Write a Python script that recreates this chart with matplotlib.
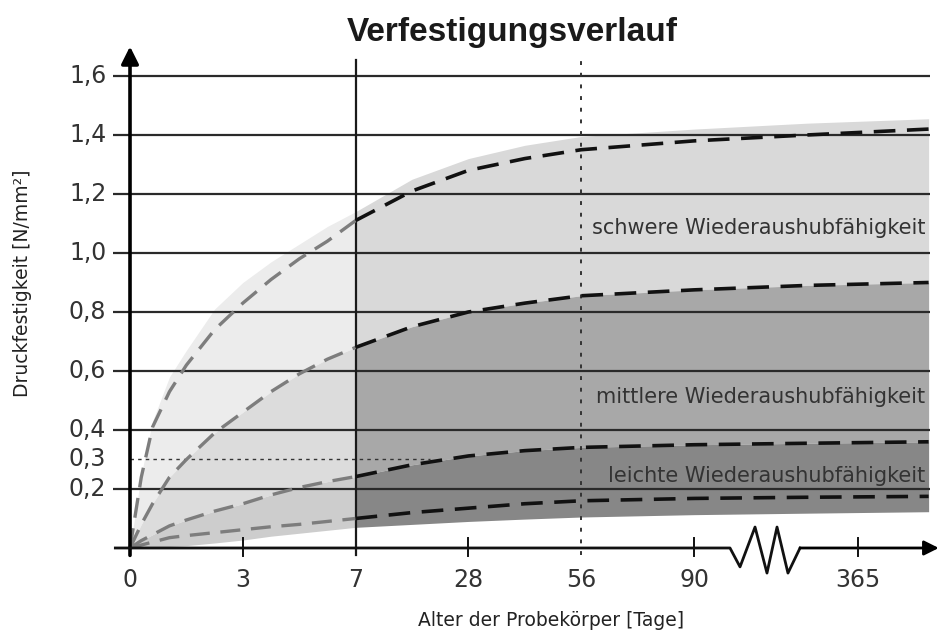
import matplotlib
matplotlib.use("Agg")
import matplotlib.pyplot as plt
import numpy as np

# x axis is categorical: positions of the day ticks (equal spacing, axis break before 365)
day_labels = ['0', '3', '7', '28', '56', '90', '365']
day_pos = [0, 1, 2, 3, 4, 5, 6.45]

xs = [0, 0.1, 0.2, 0.35, 0.5, 0.75, 1.0, 1.25, 1.5, 1.75, 2.0, 2.5, 3.0, 3.5, 4.0, 5.0, 6.0, 7.08]

# dashed strength curves [N/mm²]
curve_a = [0, 0.24, 0.41, 0.53, 0.62, 0.74, 0.83, 0.91, 0.98, 1.04, 1.11, 1.21, 1.28, 1.32, 1.35, 1.38, 1.40, 1.42]
curve_b = [0, 0.08, 0.15, 0.24, 0.30, 0.39, 0.46, 0.53, 0.59, 0.64, 0.68, 0.75, 0.80, 0.83, 0.855, 0.875, 0.89, 0.90]
curve_c = [0, 0.025, 0.045, 0.075, 0.095, 0.125, 0.15, 0.18, 0.205, 0.225, 0.242, 0.282, 0.312, 0.33, 0.341, 0.35, 0.355, 0.36]
curve_d = [0, 0.01, 0.02, 0.035, 0.042, 0.052, 0.062, 0.072, 0.08, 0.09, 0.10, 0.12, 0.135, 0.15, 0.16, 0.168, 0.172, 0.175]

# outer edges of the shaded area
upper_edge = [0, 0.25, 0.43, 0.58, 0.67, 0.81, 0.90, 0.97, 1.03, 1.09, 1.14, 1.25, 1.32, 1.365, 1.395, 1.42, 1.44, 1.455]
lower_edge = [0, 0.0, 0.002, 0.005, 0.008, 0.017, 0.027, 0.04, 0.05, 0.06, 0.07, 0.08, 0.09, 0.098, 0.105, 0.113, 0.118, 0.123]

y_ticks = [0.2, 0.3, 0.4, 0.6, 0.8, 1.0, 1.2, 1.4, 1.6]
y_labels = ['0,2', '0,3', '0,4', '0,6', '0,8', '1,0', '1,2', '1,4', '1,6']
grid_vals = [0.2, 0.4, 0.6, 0.8, 1.0, 1.2, 1.4, 1.6]

zones = ['schwere Wiederaushubfähigkeit', 'mittlere Wiederaushubfähigkeit', 'leichte Wiederaushubfähigkeit']
zone_y = [1.085, 0.512, 0.244]

xs = np.array(xs)
A, B, C, D = map(np.array, (curve_a, curve_b, curve_c, curve_d))
E, F = np.array(upper_edge), np.array(lower_edge)

fig = plt.figure(figsize=(9.39, 6.35), dpi=100)
ax = fig.add_axes([100 / 939, 65 / 635, 839 / 939, 525 / 635])
ax.set_xlim(-0.266, 7.172)
ax.set_ylim(-0.0746, 1.705)
ax.axis('off')

k = int(np.where(xs == 2.0)[0][0])
left = slice(0, k + 1)
right = slice(k, None)

# shaded bands: lighter before 7 days, darker after
ax.fill_between(xs[left], B[left], E[left], color='#ececec', lw=0, zorder=1)
ax.fill_between(xs[left], C[left], B[left], color='#dcdcdc', lw=0, zorder=1)
ax.fill_between(xs[left], F[left], C[left], color='#cdcdcd', lw=0, zorder=1)
ax.fill_between(xs[right], B[right], E[right], color='#d9d9d9', lw=0, zorder=1)
ax.fill_between(xs[right], C[right], B[right], color='#a8a8a8', lw=0, zorder=1)
ax.fill_between(xs[right], F[right], C[right], color='#878787', lw=0, zorder=1)

# horizontal grid
ax.hlines(grid_vals, -0.15, 7.09, color='#2a2a2a', lw=1.6, zorder=2)
ax.plot([0, 2.66], [0.3, 0.3], color='#333333', lw=1.0, dashes=(2.5, 3), zorder=2)

# vertical markers at 7 and 56 days
ax.plot([2, 2], [-0.024, 1.654], color='#1a1a1a', lw=1.6, zorder=3)
ax.plot([4, 4], [-0.024, 1.654], color='#333333', lw=1.4, dashes=(2, 4), zorder=3)

# dashed curves: grey up to 7 days, black afterwards
for c in (A, B, C, D):
    ax.plot(xs[left], c[left], color='#7d7d7d', lw=2.4, dashes=(6, 3.2), zorder=4)
    ax.plot(xs[right], c[right], color='#111111', lw=2.6, dashes=(6, 3.2), zorder=4)

# axes with arrows
ax.annotate('', xy=(0, 1.70), xytext=(0, -0.025),
            arrowprops=dict(arrowstyle='-|>', lw=2.6, color='black', mutation_scale=26, shrinkA=0, shrinkB=0),
            zorder=5, annotation_clip=False)
zig_x = [-0.13, 5.319, 5.408, 5.541, 5.647, 5.736, 5.833, 5.940]
zig_y = [0, 0, -0.064, 0.071, -0.085, 0.071, -0.085, 0]
ax.plot(zig_x, zig_y, color='#111111', lw=2.0, zorder=5, clip_on=False)
ax.annotate('', xy=(7.17, 0), xytext=(5.94, 0),
            arrowprops=dict(arrowstyle='-|>', lw=2.0, color='black', mutation_scale=22, shrinkA=0, shrinkB=0),
            zorder=5, annotation_clip=False)

for p in day_pos:
    if p in (1, 3, 5, 6.45):
        ax.plot([p, p], [-0.027, 0.034], color='#111111', lw=1.4, zorder=5)
    ax.text(p, -0.108, day_labels[day_pos.index(p)], ha='center', va='center',
            fontsize=17, color='#333333', family='DejaVu Sans')

for v, lab in zip(y_ticks, y_labels):
    ax.text(-0.21, v, lab, ha='right', va='center', fontsize=17, color='#333333', family='DejaVu Sans')

for lab, v in zip(zones, zone_y):
    ax.text(7.05, v, lab, ha='right', va='center', fontsize=15, color='#333333',
            family='DejaVu Sans', zorder=6)

ax.text(3.73, -0.247, 'Alter der Probekörper [Tage]', ha='center', va='center',
        fontsize=13.5, color='#222222', family='DejaVu Sans')
ax.text(-0.957, 0.898, 'Druckfestigkeit [N/mm²]', ha='center', va='center', rotation=90,
        fontsize=13.5, color='#222222', family='DejaVu Sans')
ax.text(3.39, 1.748, 'Verfestigungsverlauf', ha='center', va='center',
        fontsize=24, fontweight='bold', color='#1a1a1a', family='Liberation Sans')

fig.savefig('out.png', dpi=100)
